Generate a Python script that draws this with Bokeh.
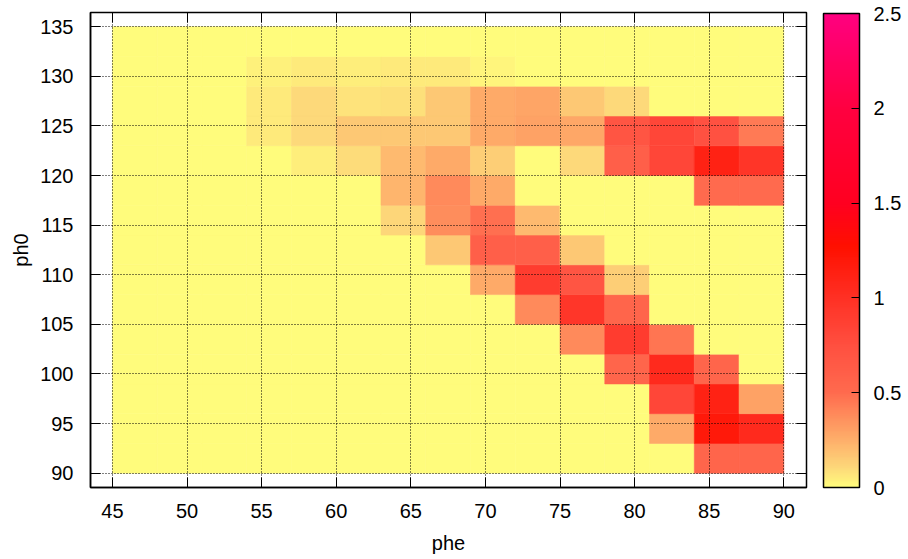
import numpy as np
from bokeh.plotting import figure
from bokeh.models import (LinearColorMapper, ColorBar, FixedTicker, LinearAxis,
                          Range1d, ColumnDataSource)
from bokeh.transform import transform
from bokeh.embed import file_html
from bokeh.resources import INLINE

# ---- data -------------------------------------------------------------
phe = [46.5, 49.5, 52.5, 55.5, 58.5, 61.5, 64.5, 67.5, 70.5, 73.5, 76.5, 79.5, 82.5, 85.5, 88.5]
ph0 = [91.5, 94.5, 97.5, 100.5, 103.5, 106.5, 109.5, 112.5, 115.5, 118.5, 121.5, 124.5, 127.5, 130.5, 133.5]
# one row per ph0 value (bottom to top), one column per phe value
density = [
    [0, 0, 0, 0, 0, 0, 0, 0, 0, 0, 0, 0, 0, 0.55, 0.55],
    [0, 0, 0, 0, 0, 0, 0, 0, 0, 0, 0, 0, 0.265, 1.2, 1.05],
    [0, 0, 0, 0, 0, 0, 0, 0, 0, 0, 0, 0, 0.83, 1.12, 0.3],
    [0, 0, 0, 0, 0, 0, 0, 0, 0, 0, 0, 0.55, 1.05, 0.55, 0],
    [0, 0, 0, 0, 0, 0, 0, 0, 0, 0, 0.39, 0.9, 0.46, 0, 0],
    [0, 0, 0, 0, 0, 0, 0, 0, 0, 0.39, 0.95, 0.55, 0, 0, 0],
    [0, 0, 0, 0, 0, 0, 0, 0, 0.265, 0.9, 0.7, 0.14, 0, 0, 0],
    [0, 0, 0, 0, 0, 0, 0, 0.157, 0.6, 0.6, 0.157, 0, 0, 0, 0],
    [0, 0, 0, 0, 0, 0, 0.11, 0.38, 0.48, 0.214, 0, 0, 0, 0, 0],
    [0, 0, 0, 0, 0, 0, 0.228, 0.39, 0.265, 0, 0, 0, 0, 0.5, 0.5],
    [0, 0, 0, 0, 0.04, 0.095, 0.21, 0.265, 0.14, 0, 0.1, 0.6, 0.83, 1.12, 0.96],
    [0, 0, 0, 0.055, 0.1, 0.16, 0.165, 0.165, 0.265, 0.3, 0.28, 0.7, 0.83, 0.74, 0.44],
    [0, 0, 0, 0.055, 0.1, 0.075, 0.08, 0.165, 0.265, 0.29, 0.165, 0.1, 0, 0, 0],
    [0, 0, 0, 0.03, 0.05, 0.045, 0.05, 0.055, 0.025, 0, 0, 0, 0, 0, 0],
    [0, 0, 0, 0, 0, 0, 0, 0, 0, 0, 0, 0, 0, 0, 0],
]
xticks = [45, 50, 55, 60, 65, 70, 75, 80, 85, 90]
yticks = [90, 95, 100, 105, 110, 115, 120, 125, 130, 135]
cticks = [0, 0.5, 1, 1.5, 2, 2.5]
clabels = {0: "0", 0.5: "0.5", 1: "1", 1.5: "1.5", 2: "2", 2.5: "2.5"}

# ---- palette (style) --------------------------------------------------
stop_v = [0, 0.1, 0.25, 0.5, 0.75, 1.0, 1.27, 1.5, 2.0, 2.5]
stop_c = [(255, 252, 124), (253, 216, 122), (254, 174, 106), (255, 106, 78),
          (255, 79, 64), (255, 48, 36), (255, 16, 0), (255, 0, 32),
          (255, 0, 64), (255, 0, 128)]
vv = np.linspace(0, 2.5, 256)
chan = [np.interp(vv, stop_v, [c[k] for c in stop_c]) for k in range(3)]
palette = ["#%02x%02x%02x" % (int(round(r)), int(round(g)), int(round(b)))
           for r, g, b in zip(*chan)]
mapper = LinearColorMapper(palette=palette, low=0, high=2.5)

xs, ys, vs = [], [], []
for j, yv in enumerate(ph0):
    for i, xv in enumerate(phe):
        xs.append(xv)
        ys.append(yv)
        vs.append(density[j][i])
src = ColumnDataSource(dict(x=xs, y=ys, v=vs))

FONT = "Liberation Sans"
FS = "20px"

p = figure(output_backend="svg", toolbar_location=None,
           width=908, height=559,
           min_border_left=90, min_border_top=12, min_border_bottom=72, min_border_right=102,
           x_range=Range1d(43.53, 91.52), y_range=Range1d(88.56, 136.43),
           background_fill_color="white", border_fill_color="white")

p.rect(x="x", y="y", width=3, height=3, source=src,
       fill_color=transform("v", mapper), line_color=transform("v", mapper),
       line_width=0.6)

p.outline_line_color = "black"
p.outline_line_width = 1.5

for ax in (p.xaxis[0], p.yaxis[0]):
    ax.major_tick_in = 10
    ax.major_tick_out = 0
    ax.minor_tick_line_color = None
    ax.axis_line_color = "black"
    ax.axis_line_width = 1.5
    ax.major_tick_line_color = "black"
    ax.major_tick_line_width = 1
    ax.major_label_text_font = FONT
    ax.major_label_text_font_size = FS
    ax.major_label_text_color = "black"
    ax.axis_label_text_font = FONT
    ax.axis_label_text_font_size = FS
    ax.axis_label_text_font_style = "normal"
    ax.axis_label_text_color = "black"

p.xaxis[0].ticker = FixedTicker(ticks=xticks)
p.yaxis[0].ticker = FixedTicker(ticks=yticks)
p.xaxis[0].axis_label = "phe"
p.yaxis[0].axis_label = "ph0"
p.xaxis[0].major_label_standoff = 16
p.xaxis[0].axis_label_standoff = 11
p.yaxis[0].major_label_standoff = 17
p.yaxis[0].axis_label_standoff = 5

# mirrored tick marks on top and right (no labels)
top = LinearAxis(ticker=FixedTicker(ticks=xticks), major_label_text_font_size="1px",
                 major_label_text_color=None,
                 major_tick_in=10, major_tick_out=0, minor_tick_line_color=None,
                 major_label_standoff=0, axis_line_color=None)
p.add_layout(top, "above")
right = LinearAxis(ticker=FixedTicker(ticks=yticks), major_label_text_font_size="1px",
                   major_label_text_color=None,
                   major_tick_in=10, major_tick_out=0, minor_tick_line_color=None,
                   major_label_standoff=0, axis_line_color=None)
p.add_layout(right, "right")

p.xgrid.ticker = FixedTicker(ticks=xticks)
p.ygrid.ticker = FixedTicker(ticks=yticks)
for g in (p.xgrid[0], p.ygrid[0]):
    g.grid_line_color = "black"
    g.grid_line_dash = "1 2"
    g.grid_line_width = 1
    g.level = "annotation"

cb = ColorBar(color_mapper=mapper, ticker=FixedTicker(ticks=cticks),
              major_label_overrides=clabels, width=36, height=474,
              location=(17, 0), margin=0, padding=0,
              bar_line_color="black", bar_line_width=1.5,
              major_tick_line_color="black", major_tick_in=8, major_tick_out=0,
              minor_tick_line_color=None, label_standoff=14,
              major_label_text_font=FONT, major_label_text_font_size=FS,
              major_label_text_color="black",
              background_fill_alpha=0, border_line_color=None)
p.add_layout(cb, "right")

open("out.html", "w").write(file_html(p, INLINE))
